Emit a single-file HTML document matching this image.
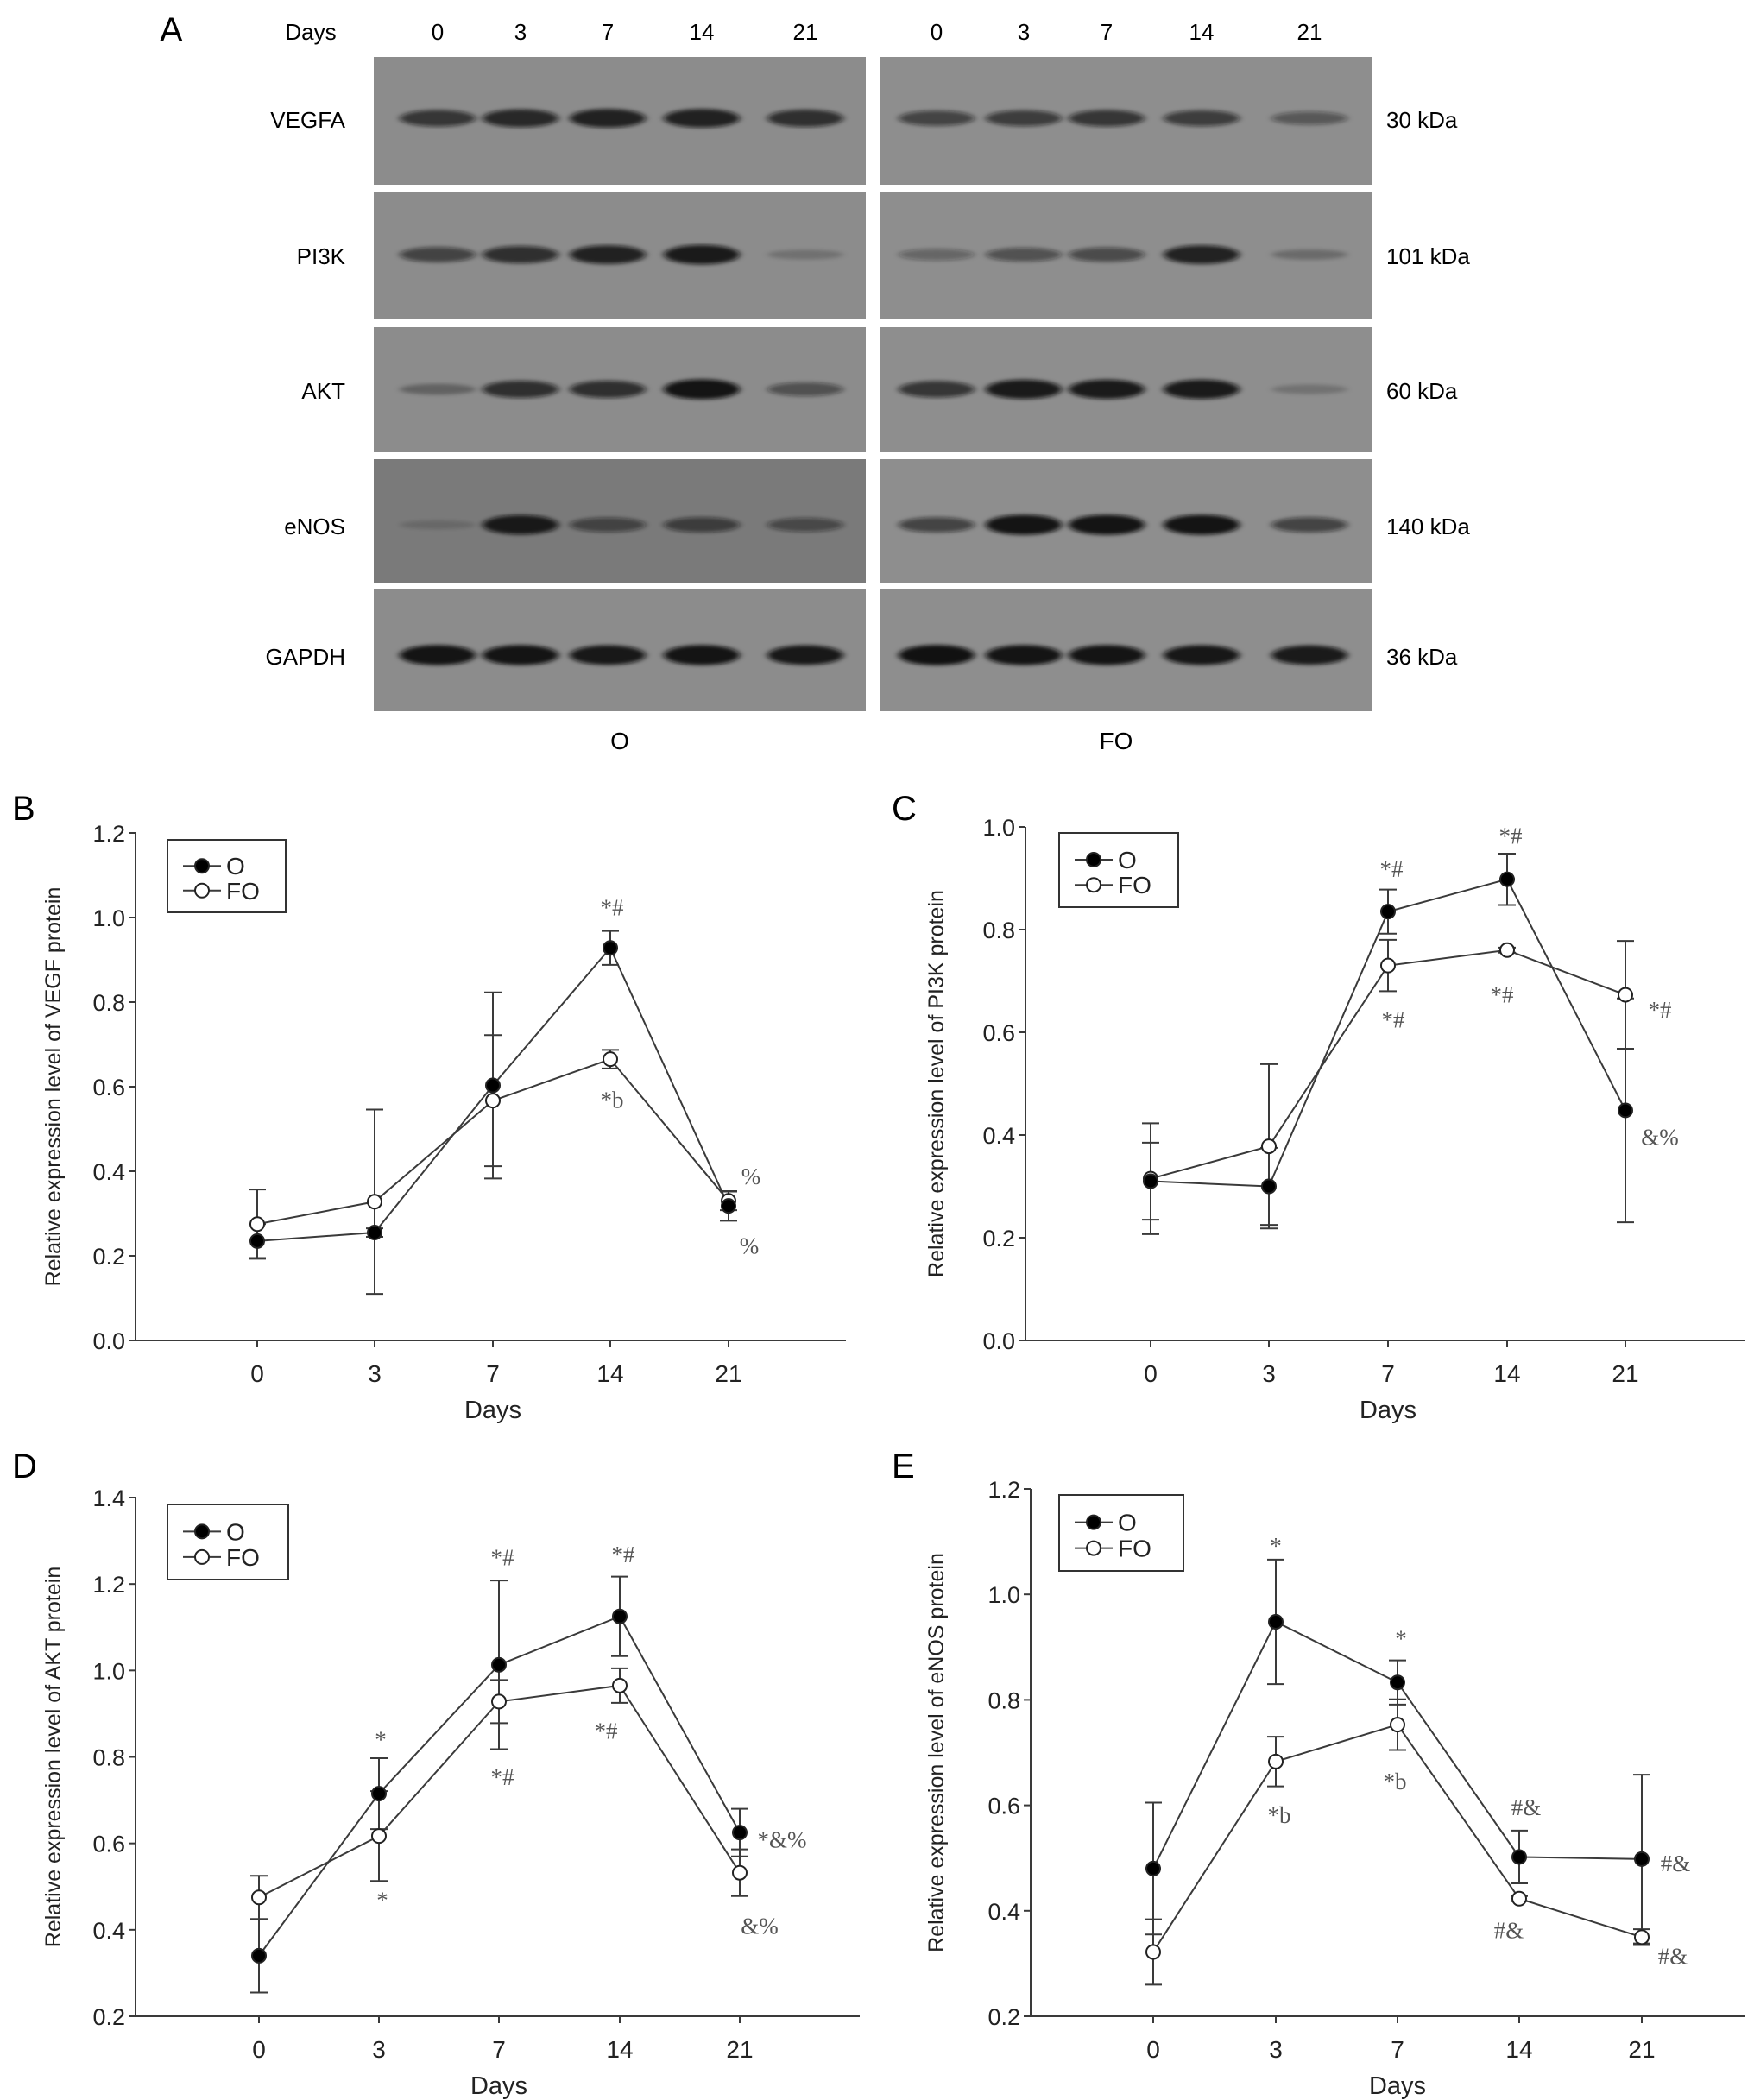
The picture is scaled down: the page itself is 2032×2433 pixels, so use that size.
<!DOCTYPE html>
<html><head><meta charset="utf-8"><style>
html,body{margin:0;padding:0;background:#fff;}
svg{display:block;font-family:"Liberation Sans",Arial,sans-serif;}
.ann{font-family:"Liberation Serif",serif;fill:#555;font-size:27px;}
</style></head><body>
<svg id="fig" width="2032" height="2433" viewBox="0 0 2032 2433" xmlns="http://www.w3.org/2000/svg">
<defs><filter id="blur" x="-30%" y="-100%" width="160%" height="300%"><feGaussianBlur stdDeviation="4 2"/></filter></defs>
<g id="panelA"></g>
<g id="charts"></g>
</svg>
<script>
// ---------- Panel A data ----------
const days = ["0","3","7","14","21"];
const proteins = ["VEGFA","PI3K","AKT","eNOS","GAPDH"];
const kdas = ["30 kDa","101 kDa","60 kDa","140 kDa","36 kDa"];
const bandO = [[0.7,0.8,0.85,0.85,0.75],[0.6,0.75,0.85,0.9,0.2],[0.3,0.75,0.75,0.95,0.5],[0.15,0.9,0.55,0.6,0.5],[0.95,0.95,0.92,0.95,0.92]];
const bandFO = [[0.6,0.65,0.7,0.65,0.45],[0.35,0.5,0.55,0.85,0.25],[0.7,0.9,0.9,0.9,0.2],[0.6,0.95,0.95,0.95,0.6],[0.97,0.95,0.95,0.93,0.9]];

// ---------- Chart data ----------
const categories = ["0","3","7","14","21"];
const vegfO = [0.235,0.255,0.603,0.928,0.318];
const vegfOerr = [0.04,0.01,0.22,0.04,0.035];
const vegfFO = [0.275,0.328,0.567,0.665,0.33];
const vegfFOerr = [0.082,0.218,0.155,0.022,0.022];
const vegfTicks = ["0.0","0.2","0.4","0.6","0.8","1.0","1.2"];

const pi3kO = [0.31,0.30,0.835,0.898,0.448];
const pi3kOerr = [0.075,0.075,0.043,0.05,0.218];
const pi3kFO = [0.315,0.378,0.73,0.76,0.673];
const pi3kFOerr = [0.108,0.16,0.05,0.005,0.105];
const pi3kTicks = ["0.0","0.2","0.4","0.6","0.8","1.0"];

const aktO = [0.34,0.715,1.013,1.125,0.625];
const aktOerr = [0.085,0.082,0.195,0.092,0.055];
const aktFO = [0.475,0.617,0.928,0.965,0.532];
const aktFOerr = [0.05,0.104,0.05,0.04,0.054];
const aktTicks = ["0.2","0.4","0.6","0.8","1.0","1.2","1.4"];

const enosO = [0.48,0.948,0.833,0.502,0.498];
const enosOerr = [0.125,0.118,0.042,0.05,0.16];
const enosFO = [0.322,0.683,0.753,0.423,0.35];
const enosFOerr = [0.062,0.047,0.048,0.005,0.015];
const enosTicks = ["0.2","0.4","0.6","0.8","1.0","1.2"];

const NS="http://www.w3.org/2000/svg";
function mk(tag, attrs, parent, text){
  const e=document.createElementNS(NS,tag);
  for(const k in attrs) e.setAttribute(k,attrs[k]);
  if(text!==undefined) e.textContent=text;
  parent.appendChild(e); return e;
}

// ---------- Panel A ----------
(function(){
  const g=document.getElementById('panelA');
  let t=mk('text',{x:185,y:48,'font-size':40},g,'A');
  
  
  t=mk('text',{x:360,y:46,'font-size':26,'text-anchor':'middle'},g,'Days');
  
  
  const laneO=[507,603,704,813,933], laneFO=[1085,1186,1282,1392,1517];
  days.forEach((d,i)=>{
    let a=mk('text',{x:laneO[i],y:46,'font-size':26,'text-anchor':'middle'},g,d);
    
    
    let b=mk('text',{x:laneFO[i],y:46,'font-size':26,'text-anchor':'middle'},g,d);
    
    
  });
  const rows=[[66,214],[222,370],[379,524],[532,675],[682,824]];
  const rowC=[139,297,453,610,761];
  proteins.forEach((p,r)=>{
    const [y0,y1]=rows[r];
    let rect=mk('rect',{x:433,y:y0,width:570,height:y1-y0,fill:r===3?'#7a7a7a':'#8c8c8c'},g);
    
    
    rect=mk('rect',{x:1020,y:y0,width:569,height:y1-y0,fill:'#8e8e8e'},g);
    
    
    for(let i=0;i<5;i++){
      [[laneO,bandO],[laneFO,bandFO]].forEach(([ln,bd])=>{
        const v=bd[r][i];
        const e=mk('ellipse',{cx:ln[i],cy:rowC[r]-2,rx:44,ry:4+v*8,fill:'#111','fill-opacity':v,filter:'url(#blur)'},g);
        
        
      });
    }
    let l=mk('text',{x:400,y:rowC[r]+9,'font-size':26,'text-anchor':'end'},g,p);
    
    
    l=mk('text',{x:1606,y:rowC[r]+9,'font-size':26},g,kdas[r]);
    
    
  });
  let o=mk('text',{x:718,y:868,'font-size':28,'text-anchor':'middle'},g,'O');
  
  
  o=mk('text',{x:1293,y:868,'font-size':28,'text-anchor':'middle'},g,'FO');
  
  
})();

// ---------- Charts ----------
function chart(cfg){
  const g=mk('g',{},document.getElementById('charts'));
  
  
  const ymin=parseFloat(cfg.ticks[0]), ymax=parseFloat(cfg.ticks[cfg.ticks.length-1]);
  const ys=v=>cfg.yBot+(v-ymin)/(ymax-ymin)*(cfg.yTop-cfg.yBot);
  const xs=i=>cfg.cx[i];
  const stroke='#3a3a3a';
  let t=mk('text',{x:cfg.letter[0],y:cfg.letter[1],'font-size':40},g,cfg.id.toUpperCase());
  
  
  let ax=mk('line',{x1:cfg.ax,y1:cfg.yTop,x2:cfg.ax,y2:cfg.yBot,stroke:stroke,'stroke-width':2},g);
  
  
  ax=mk('line',{x1:cfg.ax,y1:cfg.yBot,x2:cfg.xEnd,y2:cfg.yBot,stroke:stroke,'stroke-width':2},g);
  
  
  cfg.ticks.forEach(tk=>{
    const y=ys(parseFloat(tk));
    mk('line',{x1:cfg.ax-8,y1:y,x2:cfg.ax,y2:y,stroke:stroke,'stroke-width':2},g);
    const l=mk('text',{x:cfg.ax-12,y:y+10,'font-size':27,'text-anchor':'end',fill:'#222'},g,tk);
    
    
  });
  categories.forEach((c,i)=>{
    mk('line',{x1:xs(i),y1:cfg.yBot,x2:xs(i),y2:cfg.yBot+8,stroke:stroke,'stroke-width':2},g);
    const l=mk('text',{x:xs(i),y:cfg.yBot+48,'font-size':28,'text-anchor':'middle',fill:'#222'},g,c);
    
    
  });
  let xl=mk('text',{x:(cfg.cx[2]),y:cfg.yBot+90,'font-size':29,'text-anchor':'middle',fill:'#222'},g,'Days');
  
  
  const ymid=(cfg.yTop+cfg.yBot)/2;
  let yl=mk('text',{x:cfg.ylx,y:ymid,'font-size':25,'text-anchor':'middle',fill:'#222',transform:`rotate(-90 ${cfg.ylx} ${ymid})`},g,cfg.ylabel);
  
  
  [[cfg.fo,cfg.foErr,'#fff','fo'],[cfg.o,cfg.oErr,'#000','o']].forEach(([vals,errs,fill,nm])=>{
    const pts=vals.map((v,i)=>xs(i)+','+ys(v)).join(' ');
    const pl=mk('polyline',{points:pts,fill:'none',stroke:stroke,'stroke-width':2},g);
    
    
  });
  [[cfg.fo,cfg.foErr,'#fff','fo'],[cfg.o,cfg.oErr,'#000','o']].forEach(([vals,errs,fill,nm])=>{
    vals.forEach((v,i)=>{
      const x=xs(i), lo=ys(v-errs[i]), hi=ys(v+errs[i]);
      const eb=mk('path',{d:`M${x},${lo}V${hi}M${x-10},${lo}H${x+10}M${x-10},${hi}H${x+10}`,stroke:stroke,'stroke-width':2,fill:'none'},g);
      
      
    });
  });
  [[cfg.fo,'#fff','fo'],[cfg.o,'#000','o']].forEach(([vals,fill,nm])=>{
    vals.forEach((v,i)=>{
      const c=mk('circle',{cx:xs(i),cy:ys(v),r:8,fill:fill,stroke:'#222','stroke-width':2},g);
      
      
    });
  });
  cfg.ann.forEach(([i,v,dx,txt])=>{
    const a=mk('text',{x:xs(i)+dx,y:ys(v)+9,'text-anchor':'middle',class:'ann'},g,txt);
    
    
  });
  const [lx0,ly0,lx1,ly1]=cfg.leg;
  const lg=mk('g',{},g);
  
  
  mk('rect',{x:lx0,y:ly0,width:lx1-lx0,height:ly1-ly0,fill:'#fff',stroke:'#333','stroke-width':2},lg);
  const r1=ly0+(ly1-ly0)*0.36, r2=ly0+(ly1-ly0)*0.7;
  [[r1,'#000','O'],[r2,'#fff','FO']].forEach(([yy,f,lab])=>{
    const e=mk('g',{},lg);
    
    
    mk('line',{x1:lx0+18,y1:yy,x2:lx0+62,y2:yy,stroke:stroke,'stroke-width':2},e);
    mk('circle',{cx:lx0+40,cy:yy,r:8,fill:f,stroke:'#222','stroke-width':2},e);
    mk('text',{x:lx0+68,y:yy+10,'font-size':28,fill:'#222'},e,lab);
  });
}

chart({id:'b',letter:[14,950],ax:157,xEnd:980,yTop:965,yBot:1553,cx:[298,434,571,707,844],ticks:vegfTicks,
  o:vegfO,oErr:vegfOerr,fo:vegfFO,foErr:vegfFOerr,ylx:70,ylabel:'Relative expression level of VEGF protein',
  leg:[194,973,331,1057],
  ann:[[3,1.023,2,'*#'],[3,0.568,2,'*b'],[4,0.388,26,'%'],[4,0.223,24,'%']]});
chart({id:'c',letter:[1033,950],ax:1188,xEnd:2022,yTop:958,yBot:1553,cx:[1333,1470,1608,1746,1883],ticks:pi3kTicks,
  o:pi3kO,oErr:pi3kOerr,fo:pi3kFO,foErr:pi3kFOerr,ylx:1093,ylabel:'Relative expression level of PI3K protein',
  leg:[1227,965,1365,1051],
  ann:[[2,0.918,4,'*#'],[3,0.982,4,'*#'],[3,0.673,-6,'*#'],[2,0.624,6,'*#'],[4,0.644,40,'*#'],[4,0.396,40,'&%']]});
chart({id:'d',letter:[14,1712],ax:157,xEnd:996,yTop:1735,yBot:2336,cx:[300,439,578,718,857],ticks:aktTicks,
  o:aktO,oErr:aktOerr,fo:aktFO,foErr:aktFOerr,ylx:70,ylabel:'Relative expression level of AKT protein',
  leg:[194,1743,334,1830],
  ann:[[2,1.261,4,'*#'],[3,1.268,4,'*#'],[1,0.84,2,'*'],[3,0.86,-16,'*#'],[2,0.753,4,'*#'],[1,0.469,4,'*'],[4,0.608,49,'*&%'],[4,0.409,23,'&%']]});
chart({id:'e',letter:[1033,1712],ax:1194,xEnd:2022,yTop:1725,yBot:2336,cx:[1336,1478,1619,1760,1902],ticks:enosTicks,
  o:enosO,oErr:enosOerr,fo:enosFO,foErr:enosFOerr,ylx:1093,ylabel:'Relative expression level of eNOS protein',
  leg:[1227,1732,1371,1820],
  ann:[[1,1.092,0,'*'],[2,0.916,4,'*'],[1,0.581,4,'*b'],[2,0.645,-3,'*b'],[3,0.596,8,'#&'],[3,0.363,-12,'#&'],[4,0.49,39,'#&'],[4,0.314,36,'#&']]});
</script>
</body></html>
